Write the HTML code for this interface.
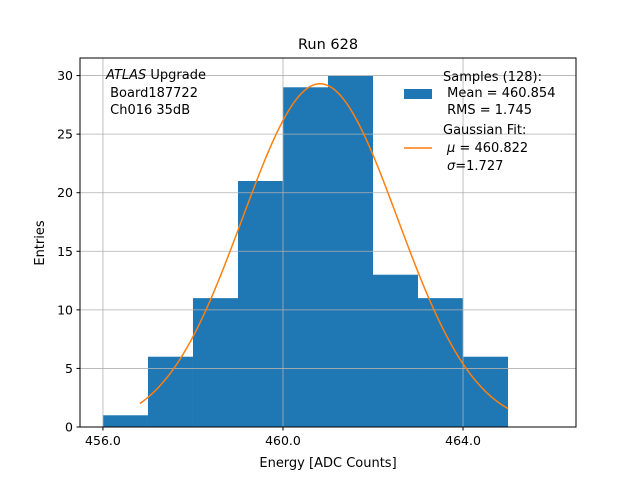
<!DOCTYPE html>
<html><head><meta charset="utf-8"><style>
body{margin:0;background:#fff;}
svg text{font-family:"DejaVu Sans","Liberation Sans",sans-serif;}
</style></head><body>
<svg id="chart" width="640" height="480" xmlns="http://www.w3.org/2000/svg">
<rect width="640" height="480" fill="#fff"/>
<text x="328" y="49" font-size="14.5" text-anchor="middle">Run 628</text>
<g id="bars"></g>
<g id="grid"></g>
<g id="fit"></g>
<rect x="80" y="58" width="496" height="369" fill="none" stroke="#000" stroke-width="1"/>
<g id="ticks"></g>
<text x="328" y="467" font-size="13" text-anchor="middle">Energy [ADC Counts]</text>
<text transform="translate(44,243) rotate(-90)" font-size="13" text-anchor="middle">Entries</text>
<g font-size="13">
<text x="106" y="79"><tspan font-style="italic">ATLAS</tspan> Upgrade</text>
<text x="106" y="97" xml:space="preserve"> Board187722</text>
<text x="106" y="114" xml:space="preserve"> Ch016 35dB</text>
</g>
<g font-size="13">
<rect x="404" y="89" width="28" height="10" fill="#1f77b4"/>
<text x="443" y="81">Samples (128):</text>
<text x="443" y="97" xml:space="preserve"> Mean = 460.854</text>
<text x="443" y="114" xml:space="preserve"> RMS = 1.745</text>
<line x1="404" y1="148" x2="432" y2="148" stroke="#ff7f0e" stroke-width="1.5"/>
<text x="443" y="134">Gaussian Fit:</text>
<text x="447" y="152"><tspan font-style="italic">μ</tspan> = 460.822</text>
<text x="447" y="170"><tspan font-style="italic">σ</tspan>=1.727</text>
</g>
</svg>
<script>
const binEdges=[456,457,458,459,460,461,462,463,464,465];
const counts=[1,6,11,21,29,30,13,11,6];
const xTicks=[456,460,464];
const xTickLabels=["456.0","460.0","464.0"];
const yTicks=[0,5,10,15,20,25,30];
const fitMu=[460.822];
const fitSigma=[1.727];
const fitAmp=[29.3];
const fitRange=[456.82,465.0];
const NS="http://www.w3.org/2000/svg";
const X0=80,X1=576,Y0=427,Y1=58,xmin=455.49,xmax=466.51,ymin=0,ymax=31.5;
const sx=v=>X0+(v-xmin)/(xmax-xmin)*(X1-X0);
const sy=v=>Y0-(v-ymin)/(ymax-ymin)*(Y0-Y1);
function mk(tag,attrs,parent){const e=document.createElementNS(NS,tag);for(const k in attrs)e.setAttribute(k,attrs[k]);document.getElementById(parent).appendChild(e);return e;}
counts.forEach((c,i)=>{
 const r=mk('rect',{x:sx(binEdges[i]),y:sy(c),width:sx(binEdges[i+1])-sx(binEdges[i]),height:sy(0)-sy(c),fill:'#1f77b4'},'bars');
 
 
});
xTicks.forEach((t,i)=>{
 const g=mk('line',{x1:sx(t),x2:sx(t),y1:Y1,y2:Y0,stroke:'#b0b0b0','stroke-width':0.8},'grid');
 
 
 const tk=mk('line',{x1:sx(t),x2:sx(t),y1:Y0,y2:Y0+3.5,stroke:'#000'},'ticks');
 
 
 const tx=mk('text',{x:sx(t),y:Y0+18,'font-size':12.5,'text-anchor':'middle'},'ticks');
 tx.textContent=xTickLabels[i];
 
 
});
yTicks.forEach(t=>{
 const g=mk('line',{x1:X0,x2:X1,y1:sy(t),y2:sy(t),stroke:'#b0b0b0','stroke-width':0.8},'grid');
 
 
 const tk=mk('line',{x1:X0-3.5,x2:X0,y1:sy(t),y2:sy(t),stroke:'#000'},'ticks');
 
 
 const tx=mk('text',{x:X0-7,y:sy(t)+4.5,'font-size':12.5,'text-anchor':'end'},'ticks');
 tx.textContent=String(t);
 
 
});
let pts=[];
for(let i=0;i<=200;i++){const v=fitRange[0]+(fitRange[1]-fitRange[0])*i/200;
 const y=fitAmp[0]*Math.exp(-0.5*Math.pow((v-fitMu[0])/fitSigma[0],2));
 pts.push(sx(v).toFixed(2)+','+sy(y).toFixed(2));}
const pl=mk('polyline',{points:pts.join(' '),fill:'none',stroke:'#ff7f0e','stroke-width':1.5},'fit');


</script>
</body></html>
